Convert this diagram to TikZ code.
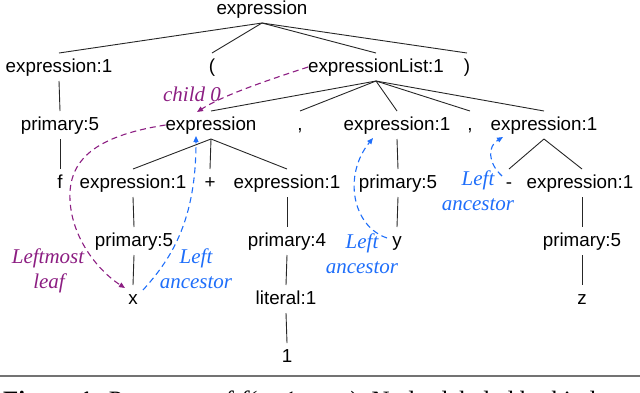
\documentclass[tikz,border=0pt]{standalone}
\usepackage{fontspec}
\setmainfont{Liberation Serif}
\newfontfamily\treefont{Liberation Sans}
\usetikzlibrary{arrows.meta}
\definecolor{lpurple}{RGB}{140,30,130}
\definecolor{lblue}{RGB}{30,110,250}
\begin{document}
\begin{tikzpicture}[x=1pt,y=-1pt,
  tn/.style={font=\treefont\fontsize{18.8}{22}\selectfont, text height=19pt, text depth=9pt, inner sep=0pt, outer sep=0pt},
  edge/.style={draw=black!85, line width=0.9pt},
  lab/.style={font=\fontsize{21}{25}\selectfont\itshape, inner sep=0pt, anchor=base},
  parrow/.style={draw=lpurple, line width=1.1pt, dash pattern=on 6pt off 4pt, -{Triangle[length=6pt,width=5pt]}},
  barrow/.style={draw=lblue, line width=1.1pt, dash pattern=on 6pt off 4pt, -{Triangle[length=6pt,width=5pt]}}
]
\useasboundingbox (0,0) rectangle (640,392);
\clip (0,0) rectangle (640,392);
% tree nodes (y = baseline - 5)
\node[tn] (root) at (262,9) {expression};
\node[tn] (e1) at (59,67) {expression:1};
\node[tn] (lp) at (212,67) {(};
\node[tn] (elist) at (376,67) {expressionList:1};
\node[tn] (rp) at (467,67) {)};
\node[tn] (p5a) at (60,125) {primary:5};
\node[tn] (ex) at (211,125) {expression};
\node[tn] (cm1) at (300,125) {,};
\node[tn] (e2) at (397,125) {expression:1};
\node[tn] (cm2) at (470,125) {,};
\node[tn] (e3) at (544,125) {expression:1};
\node[tn] (f) at (60,183) {f};
\node[tn] (e4) at (133,183) {expression:1};
\node[tn] (plus) at (210,183) {+};
\node[tn] (e5) at (287,183) {expression:1};
\node[tn] (p5b) at (398,183) {primary:5};
\node[tn] (minus) at (509,183) {-};
\node[tn] (e6) at (580,183) {expression:1};
\node[tn] (p5c) at (134,241) {primary:5};
\node[tn] (p4) at (287,241) {primary:4};
\node[tn] (y) at (397,241) {y};
\node[tn] (p5d) at (582,241) {primary:5};
\node[tn] (x) at (133,299) {x};
\node[tn] (lit) at (286,299) {literal:1};
\node[tn] (z) at (582,299) {z};
\node[tn] (one) at (287,357) {1};
% tree edges
\foreach \c in {e1,lp,elist,rp} \path[edge] (root.south) -- (\c.north);
\foreach \c in {ex,cm1,e2,cm2,e3} \path[edge] (elist.south) -- (\c.north);
\foreach \c in {e4,plus,e5} \path[edge] (ex.south) -- (\c.north);
\path[edge] (e3.south) -- (minus.north);
\path[edge] (e3.south) -- ([xshift=2pt]e6.north);
\path[edge] (e1.south) -- (p5a.north);
\path[edge] (p5a.south) -- (f.north);
\path[edge] (e4.south) -- (p5c.north);
\path[edge] (p5c.south) -- (x.north);
\path[edge] (e5.south) -- (p4.north);
\path[edge] (p4.south) -- (lit.north);
\path[edge] (lit.south) -- (one.north);
\path[edge] (e2.south) -- (p5b.north);
\path[edge] (p5b.south) -- (y.north);
\path[edge] ([xshift=2pt]e6.south) -- (p5d.north);
\path[edge] (p5d.south) -- (z.north);
% labels
\node[lab, lpurple] (lc0) at (192,101) {child 0};
\node[lab, lpurple] (llm1) at (48,263) {Leftmost};
\node[lab, lpurple] (llm2) at (49,288) {leaf};
\node[lab, lblue] (la1) at (196,263) {Left};
\node[lab, lblue] (la2) at (196,288) {ancestor};
\node[lab, lblue] (lb1) at (362,248) {Left};
\node[lab, lblue] (lb2) at (362,273) {ancestor};
\node[lab, lblue] (lcc1) at (478,185) {Left};
\node[lab, lblue] (lcc2) at (478,210) {ancestor};
% arrow end coordinates
\coordinate (c0e) at (197,112);
\coordinate (lfe) at (125,288);
\coordinate (xs) at (143,290);
\coordinate (exb) at (196,136);
\coordinate (ys) at (387,238);
\coordinate (e2b) at (373,138);
\coordinate (ms) at (502,176);
\coordinate (e3b) at (503,137);
% dashed arrows
\draw[parrow] (elist.west) .. controls (262,82) and (222,96) .. (c0e);
\draw[parrow] (ex.west) .. controls (95,136) and (68,160) .. (70,200) .. controls (72,240) and (100,272) .. (lfe);
\draw[barrow] (xs) .. controls (172,258) and (196,220) .. (exb);
\draw[barrow] (ys) .. controls (352,226) and (343,175) .. (e2b);
\draw[barrow] (ms) .. controls (487,162) and (488,146) .. (e3b);
% caption rule and (clipped) caption
\draw[black!55, line width=1.5pt] (0,376) -- (640,376);
\node[anchor=base west, inner sep=0pt, font=\fontsize{25}{30}\selectfont] (cap) at (3,408)
  {\textbf{Figure 1:} Parse tree of \textit{f(x+1, y, -z)}. Nodes labeled by kind};
\end{tikzpicture}
\end{document}
